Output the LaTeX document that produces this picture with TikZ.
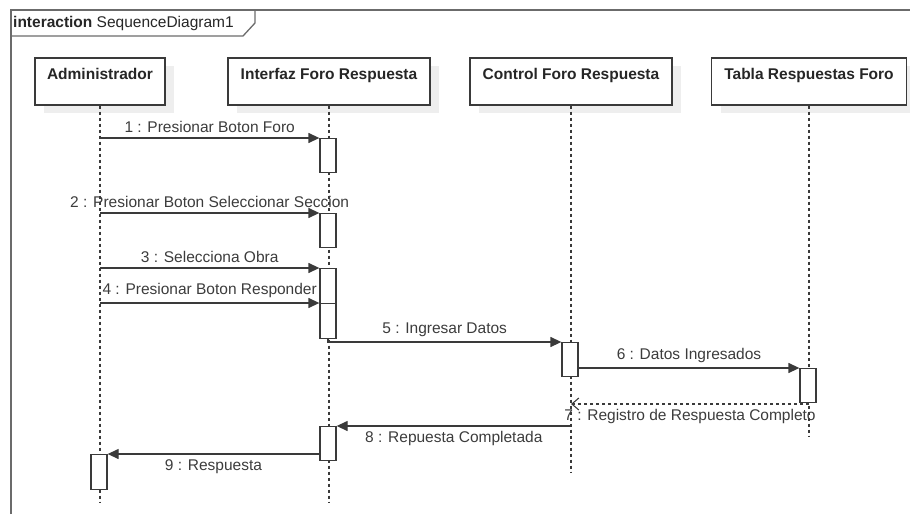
\documentclass[tikz,border=0pt]{standalone}
\usepackage{fontspec}
\setmainfont{Liberation Sans}
\usepackage{tikz}
\usetikzlibrary{arrows.meta,positioning,shadows}
\usepackage{xcolor}
\definecolor{seqline}{HTML}{3A3A3A}
\definecolor{seqframe}{HTML}{6B6B6B}
\definecolor{seqshadow}{HTML}{EEEEEE}
\definecolor{seqtext}{HTML}{3C3C3C}

\begin{document}
\begin{tikzpicture}[x=1pt, y=-1pt, font=\fontsize{15.5}{18}\selectfont,
  head/.style={draw=seqline, line width=1.3pt, fill=white, minimum height=47pt,
    inner xsep=0pt, inner ysep=10pt, text height=11pt, text depth=16pt,
    font=\fontsize{15.5}{18}\selectfont\bfseries, text=black!85,
    drop shadow={shadow xshift=9pt, shadow yshift=-8pt, fill=seqshadow, opacity=1}},
  life/.style={draw=seqline, line width=1.2pt, dash pattern=on 3pt off 3pt},
  act/.style={draw=seqline, line width=1.3pt, fill=white, minimum width=16pt,
    inner sep=0pt, anchor=north},
  msg/.style={draw=seqline, line width=1.3pt, -{Triangle[length=11pt,width=10pt]}},
  ret/.style={draw=seqline, line width=1.2pt, dash pattern=on 3pt off 3pt,
    -{Straight Barb[length=7pt,width=12pt,line width=1.1pt]}},
  lbl/.style={text=seqtext, inner sep=5pt}]
  \useasboundingbox (0,0) rectangle (910,514);

  % frame and its tab
  \draw[seqframe, line width=1.3pt] (11,514) -- (11,10) -- (910,10);
  \draw[seqframe, line width=1.3pt] (11,36) -- (243,36) -- (255,23) -- (255,10);
  \node[anchor=west, text=black!85, inner sep=0pt] (title) at (13,23)
    {\textbf{interaction} SequenceDiagram1};

  % lifeline heads
  \node[head, minimum width=130pt] (adm) at (100,81.5) {Administrador};
  \node[head, minimum width=202pt] (ifz) at (329,81.5) {Interfaz Foro Respuesta};
  \node[head, minimum width=202pt] (ctl) at (571,81.5) {Control Foro Respuesta};
  \node[head, minimum width=195pt] (tab) at (809,81.5) {Tabla Respuestas Foro};

  \coordinate (adm-end) at (100,502);
  \coordinate (ifz-end) at (329,502);
  \coordinate (ctl-end) at (571,473);
  \coordinate (tab-end) at (809,436);
  \draw[life] (adm.south) -- (adm-end);
  \draw[life] (ifz.south) -- (ifz-end);
  \draw[life] (ctl.south) -- (ctl-end);
  \draw[life] (tab.south) -- (tab-end);

  % activations
  \node[act, minimum height=34pt] (a1) at (328,138) {};
  \node[act, minimum height=34pt] (a2) at (328,213) {};
  \node[act, minimum height=35pt] (a3) at (328,268) {};
  \node[act, minimum height=35pt] (a4) at (328,303) {};
  \node[act, minimum height=34pt] (c5) at (570,342) {};
  \node[act, minimum height=34pt] (t6) at (808,368) {};
  \node[act, minimum height=34pt] (i8) at (328,426) {};
  \node[act, minimum height=35pt] (d9) at (99,454) {};

  % messages
  \draw[msg] (adm.south |- a1.north) -- (a1.north west)
    node[lbl, above, midway] (m1) {1 : Presionar Boton Foro};
  \draw[msg] (adm.south |- a2.north) -- (a2.north west)
    node[lbl, above, midway] (m2) {2 : Presionar Boton Seleccionar Seccion};
  \draw[msg] (adm.south |- a3.north) -- (a3.north west)
    node[lbl, above, midway] (m3) {3 : Selecciona Obra};
  \draw[msg] (adm.south |- a4.north) -- (a4.north west)
    node[lbl, above, midway] (m4) {4 : Presionar Boton Responder};
  \draw[msg] (a4.south) |- (c5.north west)
    node[lbl, above, pos=0.75] (m5) {5 : Ingresar Datos};
  \draw[msg] (c5.east |- t6.north) -- (t6.north west)
    node[lbl, above, midway] (m6) {6 : Datos Ingresados};
  \coordinate (r7) at (809,404);
  \draw[ret] (r7) -- (ctl.south |- r7)
    node[lbl, below, midway] (m7) {7 : Registro de Respuesta Completo};
  \draw[msg] (ctl.south |- i8.north) -- (i8.north east)
    node[lbl, below, midway] (m8) {8 : Repuesta Completada};
  \draw[msg] (i8.west |- d9.north) -- (d9.north east)
    node[lbl, below, midway] (m9) {9 : Respuesta};
\end{tikzpicture}
\end{document}
